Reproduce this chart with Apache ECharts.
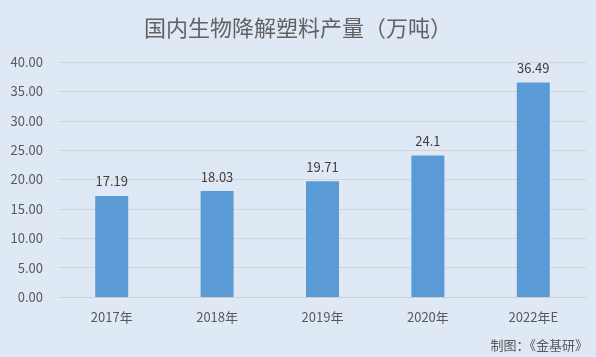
<!DOCTYPE html>
<html><head><meta charset="utf-8">
<script src="https://cdn.jsdelivr.net/npm/echarts@6/dist/echarts.min.js"></script>
<style>html,body{margin:0;padding:0;background:#dfe9f5;}#c{width:596px;height:357px;}</style>
</head><body><div id="c"></div>
<script>
const categories = ['2017年','2018年','2019年','2020年','2022年E'];
const values = [17.19, 18.03, 19.71, 24.1, 36.49];
const labels = ['17.19','18.03','19.71','24.1','36.49'];
const chart = echarts.init(document.getElementById('c'));
chart.setOption({
  backgroundColor: '#dfe9f5',
  animation: false,
  title: {text: '国内生物降解塑料产量（万吨）', left: 'center', top: 12,
    textStyle: {fontFamily: 'Noto Sans CJK SC', fontSize: 22, fontWeight: 'normal', color: '#626262'}},
  grid: {left: 59, right: 10, top: 62, bottom: 60},
  xAxis: {type: 'category', data: categories,
    axisLine: {lineStyle: {color: '#d0d0d0'}}, axisTick: {show: false},
    axisLabel: {color: '#595959', fontSize: 13, margin: 14, fontFamily: 'Noto Sans CJK SC'}},
  yAxis: {type: 'value', min: 0, max: 40, interval: 5,
    axisLine: {show: false}, axisTick: {show: false},
    splitLine: {lineStyle: {color: '#d4d4d4'}},
    axisLabel: {color: '#595959', fontSize: 13, margin: 16, fontFamily: 'Noto Sans CJK SC', formatter: v => v.toFixed(2)}},
  series: [{type: 'bar', data: values, barWidth: 33,
    itemStyle: {color: '#5b9bd5'},
    label: {show: true, position: 'top', distance: 8, color: '#404040', fontSize: 13,
      fontFamily: 'Noto Sans CJK SC', formatter: p => labels[p.dataIndex]}}],
  graphic: [{type: 'text', right: 8, bottom: 5,
    style: {text: '制图：《金基研》', fill: '#595959', fontSize: 13, fontFamily: 'Noto Sans CJK SC'}}]
});
</script></body></html>
